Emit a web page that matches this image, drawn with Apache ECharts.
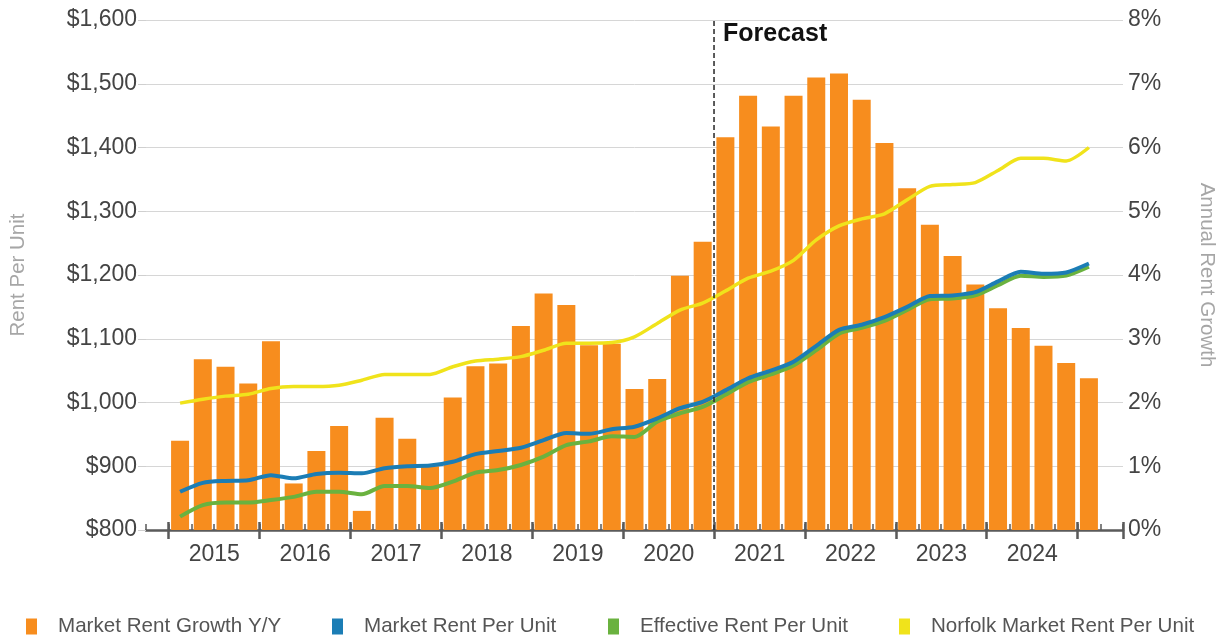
<!DOCTYPE html>
<html>
<head>
<meta charset="utf-8">
<script src="https://cdn.jsdelivr.net/npm/echarts@6/dist/echarts.min.js"></script>
<style>
  html, body { margin: 0; padding: 0; background: #fff; }
  #chart { width: 1225px; height: 639px; }
</style>
</head>
<body>
<div id="chart"></div>
<script>
// Quarterly series, 2015 Q1 through 2025 Q1
const growthYoY = [
  1.40, 2.68, 2.56, 2.30,
  2.96, 0.73, 1.24, 1.63,
  0.30, 1.76, 1.43, 1.00,
  2.08, 2.57, 2.61, 3.20,
  3.71, 3.53, 2.90, 2.92,
  2.21, 2.37, 3.99, 4.52,
  6.16, 6.81, 6.33, 6.81,
  7.10, 7.16, 6.75, 6.07,
  5.36, 4.79, 4.30, 3.85,
  3.48, 3.17, 2.89, 2.62,
  2.38
];
const marketRent = [
  860, 874, 877, 878,
  886, 881, 888, 890,
  889, 897, 900, 901,
  907, 919, 924, 929,
  941, 952, 951, 958,
  962, 975, 991, 1001,
  1019, 1038, 1050, 1064,
  1089, 1114, 1122, 1134,
  1150, 1167, 1168, 1173,
  1190, 1205, 1202, 1204,
  1218
];
const effectiveRent = [
  821, 839, 843, 843,
  847, 852, 860, 860,
  856, 869, 869, 866,
  876, 890, 894, 902,
  915, 933, 939, 947,
  946, 970, 983, 993,
  1012, 1032, 1044, 1058,
  1082, 1108, 1117, 1128,
  1145, 1162, 1163, 1168,
  1184, 1199, 1197, 1199,
  1213
];
const norfolkRent = [
  999, 1005, 1010, 1013,
  1022, 1025, 1025, 1027,
  1035, 1044, 1044, 1044,
  1056, 1065, 1068, 1072,
  1082, 1093, 1093, 1094,
  1103, 1124, 1145, 1156,
  1175, 1195, 1206, 1223,
  1255, 1277, 1288, 1296,
  1318, 1339, 1342, 1345,
  1364, 1383, 1383, 1379,
  1400
];
const yearLabels = ['2015', '2016', '2017', '2018', '2019', '2020', '2021', '2022', '2023', '2024'];
const forecastStart = '2021 Q1';

// Quarter axis runs one empty quarter either side of the data
const quarters = ['2014 Q4'];
for (let y = 2015; y <= 2024; y++) for (let q = 1; q <= 4; q++) quarters.push(y + ' Q' + q);
quarters.push('2025 Q1', '2025 Q2');
const pad = arr => [null, ...arr, null];
const forecastIdx = quarters.indexOf(forecastStart);

const FONT = 'Liberation Sans, Arial, sans-serif';
const AXIS_COLOR = '#5a5a5a';
const COLORS = {
  growth: '#F78D1E',
  market: '#1B7DB5',
  effective: '#6AB23F',
  norfolk: '#F0E31B'
};

const chart = echarts.init(document.getElementById('chart'), null, { renderer: 'canvas' });

const legendBase = {
  top: 611,
  icon: 'rect',
  itemWidth: 11,
  itemHeight: 16,
  selectedMode: false,
  textStyle: { fontFamily: FONT, fontSize: 20.6, color: '#555', padding: [0, 0, 0, 16] }
};

const option = {
  animation: false,
  backgroundColor: '#fff',
  textStyle: { fontFamily: FONT },
  grid: { left: 142, right: 101, top: 20, bottom: 109, containLabel: false },
  legend: [
    Object.assign({}, legendBase, { left: 21, data: ['Market Rent Growth Y/Y'] }),
    Object.assign({}, legendBase, { left: 327, data: ['Market Rent Per Unit'] }),
    Object.assign({}, legendBase, { left: 603, data: ['Effective Rent Per Unit'] }),
    Object.assign({}, legendBase, { left: 894, data: ['Norfolk Market Rent Per Unit'] })
  ],
  xAxis: [
    { // quarter axis carrying the data, with small quarter ticks
      type: 'category', data: quarters, position: 'bottom',
      axisLine: { show: true, lineStyle: { color: AXIS_COLOR, width: 2.5 } },
      axisTick: { show: true, interval: 0, inside: true, length: 6, lineStyle: { color: AXIS_COLOR, width: 1.5 } },
      axisLabel: { show: false }
    },
    { // year ticks and labels
      type: 'category', data: quarters, position: 'bottom',
      axisLine: { show: false },
      axisTick: { show: true, interval: (i, v) => v.endsWith('Q1'), length: 9, lineStyle: { color: AXIS_COLOR, width: 2.5 } },
      axisLabel: {
        show: true,
        interval: (i, v) => v.endsWith('Q2') && yearLabels.includes(v.slice(0, 4)),
        formatter: v => v.slice(0, 4),
        fontFamily: FONT, fontSize: 23, color: '#444', margin: 13,
        padding: [0, 0, 0, 23]
      }
    },
    { // year ticks reaching up into the plot
      type: 'category', data: quarters, position: 'bottom',
      axisLine: { show: false },
      axisTick: { show: true, interval: (i, v) => v.endsWith('Q1'), inside: true, length: 8, lineStyle: { color: AXIS_COLOR, width: 2.5 } },
      axisLabel: { show: false }
    },
    { // continuous quarter scale for the forecast divider
      type: 'value', min: 0, max: quarters.length, show: false
    }
  ],
  yAxis: [
    {
      type: 'value', min: 800, max: 1600, interval: 100, position: 'left',
      name: 'Rent Per Unit', nameLocation: 'middle', nameGap: 117, nameRotate: 90,
      nameTextStyle: { fontFamily: FONT, fontSize: 20.5, color: '#a6a6a6' },
      axisLine: { show: false },
      axisTick: { show: true, length: 8, lineStyle: { color: '#cfcfcf' } },
      axisLabel: {
        fontFamily: FONT, fontSize: 23, color: '#444', margin: 9,
        formatter: v => '$' + v.toLocaleString('en-US')
      },
      splitLine: { show: true, lineStyle: { color: '#d6d6d6', width: 1 } }
    },
    {
      type: 'value', min: 0, max: 8, interval: 1, position: 'right',
      name: 'Annual Rent Growth', nameLocation: 'middle', nameGap: 73, nameRotate: -90,
      nameTextStyle: { fontFamily: FONT, fontSize: 20.5, color: '#a6a6a6' },
      axisLine: { show: false },
      axisTick: { show: false },
      axisLabel: { fontFamily: FONT, fontSize: 23, color: '#444', margin: 5, formatter: '{value}%' },
      splitLine: { show: false }
    }
  ],
  series: [
    {
      name: 'Market Rent Growth Y/Y', type: 'bar',
      xAxisIndex: 0, yAxisIndex: 1,
      data: pad(growthYoY), barWidth: 18,
      itemStyle: { color: COLORS.growth },
      z: 2
    },
    {
      name: 'Norfolk Market Rent Per Unit', type: 'line',
      xAxisIndex: 0, yAxisIndex: 0,
      data: pad(norfolkRent), showSymbol: false, smooth: 0.25,
      lineStyle: { color: COLORS.norfolk, width: 3.5 },
      itemStyle: { color: COLORS.norfolk },
      z: 4
    },
    {
      name: 'Effective Rent Per Unit', type: 'line',
      xAxisIndex: 0, yAxisIndex: 0,
      data: pad(effectiveRent), showSymbol: false, smooth: 0.25,
      lineStyle: { color: COLORS.effective, width: 4 },
      itemStyle: { color: COLORS.effective },
      z: 5
    },
    {
      name: 'Market Rent Per Unit', type: 'line',
      xAxisIndex: 0, yAxisIndex: 0,
      data: pad(marketRent), showSymbol: false, smooth: 0.25,
      lineStyle: { color: COLORS.market, width: 4 },
      itemStyle: { color: COLORS.market },
      z: 6
    },
    {
      name: 'forecast-divider', type: 'line',
      xAxisIndex: 3, yAxisIndex: 0,
      data: [[forecastIdx, 800], [forecastIdx, 1600]],
      showSymbol: false, silent: true, clip: false,
      lineStyle: { color: '#333', width: 1.6, type: [5, 3] },
      z: 7
    }
  ]
};

chart.setOption(option);

// "Forecast" caption sits just right of the divider, at the top of the plot
const dividerTop = chart.convertToPixel({ xAxisIndex: 3, yAxisIndex: 0 }, [forecastIdx, 1600]);
chart.setOption({
  graphic: [{
    type: 'text',
    x: dividerTop[0] + 9,
    y: dividerTop[1] + 2,
    style: { text: 'Forecast', font: 'bold 25px ' + FONT, fill: '#111' },
    z: 10
  }]
});
</script>
</body>
</html>
